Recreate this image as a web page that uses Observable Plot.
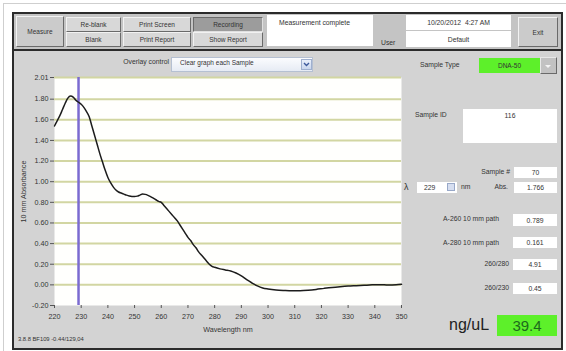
<!DOCTYPE html>
<html><head><meta charset="utf-8">
<script src="https://cdn.jsdelivr.net/npm/d3@7"></script>
<script src="https://cdn.jsdelivr.net/npm/@observablehq/plot@0.6"></script>
<style>
html,body{margin:0;padding:0;background:#fff;}
body{width:566px;height:351px;position:relative;overflow:hidden;font-family:"Liberation Sans",Arial,sans-serif;color:#2a2a2a;}
.a{position:absolute;box-sizing:border-box;}
#outer{left:3px;top:3px;width:570px;height:360px;border:1px solid #cfcfcf;}
#win{left:12px;top:12px;width:551px;height:338px;background:#d3d3d3;border:2px solid #2b2b2b;}
#bar{left:14px;top:14px;width:547px;height:37px;background:#c4c4c4;border-bottom:2px solid #2b2b2b;}
.btn{background:#d8d8d8;border:1px solid;border-color:#f2f2f2 #6a6a6a #6a6a6a #f2f2f2;font-size:6.5px;display:flex;align-items:center;justify-content:center;color:#333;white-space:nowrap;}
.box{background:#fff;font-size:6.8px;display:flex;align-items:center;justify-content:center;color:#333;white-space:nowrap;}
.lbl{font-size:6.8px;color:#333;white-space:nowrap;line-height:1;}
.r{text-align:right;}
#chart{left:12px;top:52px;}
</style></head><body>
<div id="outer" class="a"></div>
<div id="win" class="a"></div>
<div id="bar" class="a"></div>

<div class="a btn" style="left:16px;top:16px;width:48px;height:31px;background:#cbcbcb;">Measure</div>
<div class="a btn" style="left:66px;top:17px;width:55px;height:15px;">Re-blank</div>
<div class="a btn" style="left:66px;top:32px;width:55px;height:15px;">Blank</div>
<div class="a btn" style="left:123px;top:17px;width:68px;height:15px;">Print Screen</div>
<div class="a btn" style="left:123px;top:32px;width:68px;height:15px;">Print Report</div>
<div class="a btn" style="left:193px;top:17px;width:70px;height:15px;background:#9c9c9c;border-color:#6a6a6a #e0e0e0 #e0e0e0 #6a6a6a;">Recording</div>
<div class="a btn" style="left:193px;top:32px;width:70px;height:15px;">Show Report</div>
<div class="a box" style="left:267px;top:15px;width:106px;height:31px;align-items:flex-start;justify-content:flex-start;padding:4px 0 0 12px;">Measurement complete</div>
<div class="a lbl" style="left:381px;top:40px;">User</div>
<div class="a box" style="left:406px;top:15px;width:105px;height:15px;">10/20/2012&nbsp;&nbsp;4:27 AM</div>
<div class="a box" style="left:406px;top:31px;width:105px;height:16px;">Default</div>
<div class="a btn" style="left:518px;top:17px;width:40px;height:30px;background:#cbcbcb;">Exit</div>

<div class="a lbl r" style="left:90px;top:59px;width:79px;">Overlay control</div>
<div class="a" style="left:171px;top:57px;width:142px;height:15px;background:linear-gradient(#fbfcfe,#e6ebf4);border:1px solid #b5c0d2;"></div>
<div class="a lbl" style="left:180px;top:60px;font-size:6.5px;">Clear graph each Sample</div>
<div class="a" style="left:301px;top:59px;width:11px;height:11px;background:linear-gradient(#eaf0fb,#c9d6ee);border:1px solid #9fb0cf;">
  <svg width="9" height="9" style="position:absolute;left:0;top:0"><polyline points="2,3 4.5,5.5 7,3" fill="none" stroke="#3d5a9c" stroke-width="1.4"/></svg>
</div>

<div id="chart" class="a"></div>

<div class="a lbl" style="left:18px;top:337px;font-size:5.8px;">3.8.8 BF109 -0.44/129,04</div>

<div class="a lbl" style="left:420px;top:62px;">Sample Type</div>
<div class="a box" style="left:479px;top:58px;width:61px;height:15px;background:#5df02a;font-size:6.5px;">DNA-50</div>
<div class="a" style="left:540px;top:57px;width:17px;height:17px;background:#c2c2c2;border:1px solid;border-color:#e8e8e8 #6a6a6a #6a6a6a #e8e8e8;">
  <svg width="15" height="15" style="position:absolute;left:0;top:0"><polygon points="4,7 10,7 7,10" fill="#f4f4f4"/></svg>
</div>
<div class="a lbl" style="left:415px;top:112px;">Sample ID</div>
<div class="a box" style="left:463px;top:109px;width:94px;height:34px;align-items:flex-start;padding-top:3px;">116</div>

<div class="a lbl r" style="left:450px;top:169px;width:60px;">Sample #</div>
<div class="a box" style="left:514px;top:167px;width:43px;height:11px;">70</div>

<div class="a lbl" style="left:404px;top:183px;font-size:9px;">λ</div>
<div class="a box" style="left:417px;top:182px;width:40px;height:11px;justify-content:flex-start;padding-left:7px;">229
  <div class="a" style="left:30px;top:1px;width:8px;height:8px;background:#d6def0;border:1px solid #98a8c8;"></div>
</div>
<div class="a lbl" style="left:461px;top:184px;">nm</div>
<div class="a lbl r" style="left:470px;top:184px;width:38px;">Abs.</div>
<div class="a box" style="left:514px;top:182px;width:43px;height:11px;">1.766</div>

<div class="a lbl r" style="left:418px;top:216px;width:81px;">A-260 10 mm path</div>
<div class="a box" style="left:513px;top:214px;width:44px;height:12px;">0.789</div>
<div class="a lbl r" style="left:418px;top:240px;width:81px;">A-280 10 mm path</div>
<div class="a box" style="left:513px;top:237px;width:44px;height:11px;">0.161</div>
<div class="a lbl r" style="left:446px;top:261px;width:63px;">260/280</div>
<div class="a box" style="left:513px;top:259px;width:44px;height:11px;">4.91</div>
<div class="a lbl r" style="left:446px;top:285px;width:63px;">260/230</div>
<div class="a box" style="left:513px;top:283px;width:44px;height:11px;">0.45</div>

<div class="a lbl" style="left:449px;top:317px;font-size:16px;color:#222;">ng/uL</div>
<div class="a box" style="left:497px;top:315px;width:60px;height:21px;background:#5df02a;font-size:15px;color:#1c6a1c;">39.4</div>

<script>
// Spectrum (wavelength nm, 10 mm absorbance)
const wavelengths = [220,221,222,223,224,225,226,227,228,229,230,231,232,233,234,235,236,237,238,239,240,241,242,243,244,245,246,247,248,249,250,251,252,253,254,255,256,257,258,259,260,261,262,263,264,265,266,267,268,269,270,271,272,273,274,275,276,277,278,279,280,282,284,286,288,290,292,294,296,298,300,303,306,309,312,315,318,321,324,327,330,333,336,339,342,345,348,350];
const absorbance = [1.54,1.59,1.64,1.70,1.76,1.81,1.83,1.82,1.79,1.77,1.75,1.72,1.68,1.63,1.54,1.45,1.36,1.27,1.19,1.11,1.04,0.99,0.95,0.92,0.90,0.89,0.88,0.87,0.862,0.857,0.856,0.86,0.87,0.88,0.877,0.868,0.855,0.84,0.825,0.81,0.80,0.77,0.74,0.71,0.68,0.65,0.62,0.58,0.54,0.50,0.46,0.43,0.39,0.36,0.32,0.29,0.26,0.23,0.20,0.18,0.17,0.155,0.145,0.135,0.115,0.087,0.05,0.018,-0.01,-0.03,-0.04,-0.05,-0.055,-0.058,-0.057,-0.052,-0.044,-0.034,-0.025,-0.018,-0.012,-0.008,-0.004,0.0,0.002,-0.002,0.0,0.005];
const selectedWavelength = [229];
const yTicks = [-0.20,0.00,0.20,0.40,0.60,0.80,1.00,1.20,1.40,1.60,1.80,2.01];
const gridValues = [0.00,0.20,0.40,0.60,0.80,1.00,1.20,1.40,1.60,1.80,2.01];
const xTicks = [220,230,240,250,260,270,280,290,300,310,320,330,340,350];

const data = wavelengths.map((w, i) => ({w, a: absorbance[i]}));

const chart = Plot.plot({
  width: 400,
  height: 296,
  marginLeft: 42,
  marginRight: 11,
  marginTop: 25,
  marginBottom: 43,
  style: {background: "transparent", fontFamily: "Liberation Sans, Arial, sans-serif", fontSize: "7.2px", color: "#333"},
  x: {domain: [220, 350]},
  y: {domain: [-0.2, 2.01]},
  marks: [
    Plot.frame({fill: "#fffffd", stroke: null}),
    Plot.ruleY(gridValues, {stroke: "#d2d6a2", strokeWidth: 2}),
    Plot.axisY({ticks: yTicks, tickFormat: d => d.toFixed(2), tickSize: 4, tickPadding: 2, stroke: "#555",
      label: "10 mm Absorbance", labelAnchor: "center", labelArrow: "none", labelOffset: 34}),
    Plot.axisX({ticks: xTicks, tickFormat: d => String(d), tickSize: 3, tickPadding: 5, stroke: "#555",
      label: "Wavelength nm", labelAnchor: "center", labelArrow: "none", labelOffset: 26}),
    Plot.ruleX(selectedWavelength, {stroke: "#7b6bd0", strokeWidth: 2.5}),
    Plot.line(data, {x: "w", y: "a", curve: "monotone-x", stroke: "#1c1c1c", strokeWidth: 1.5})
  ]
});
document.getElementById("chart").appendChild(chart);
</script>
</body></html>
